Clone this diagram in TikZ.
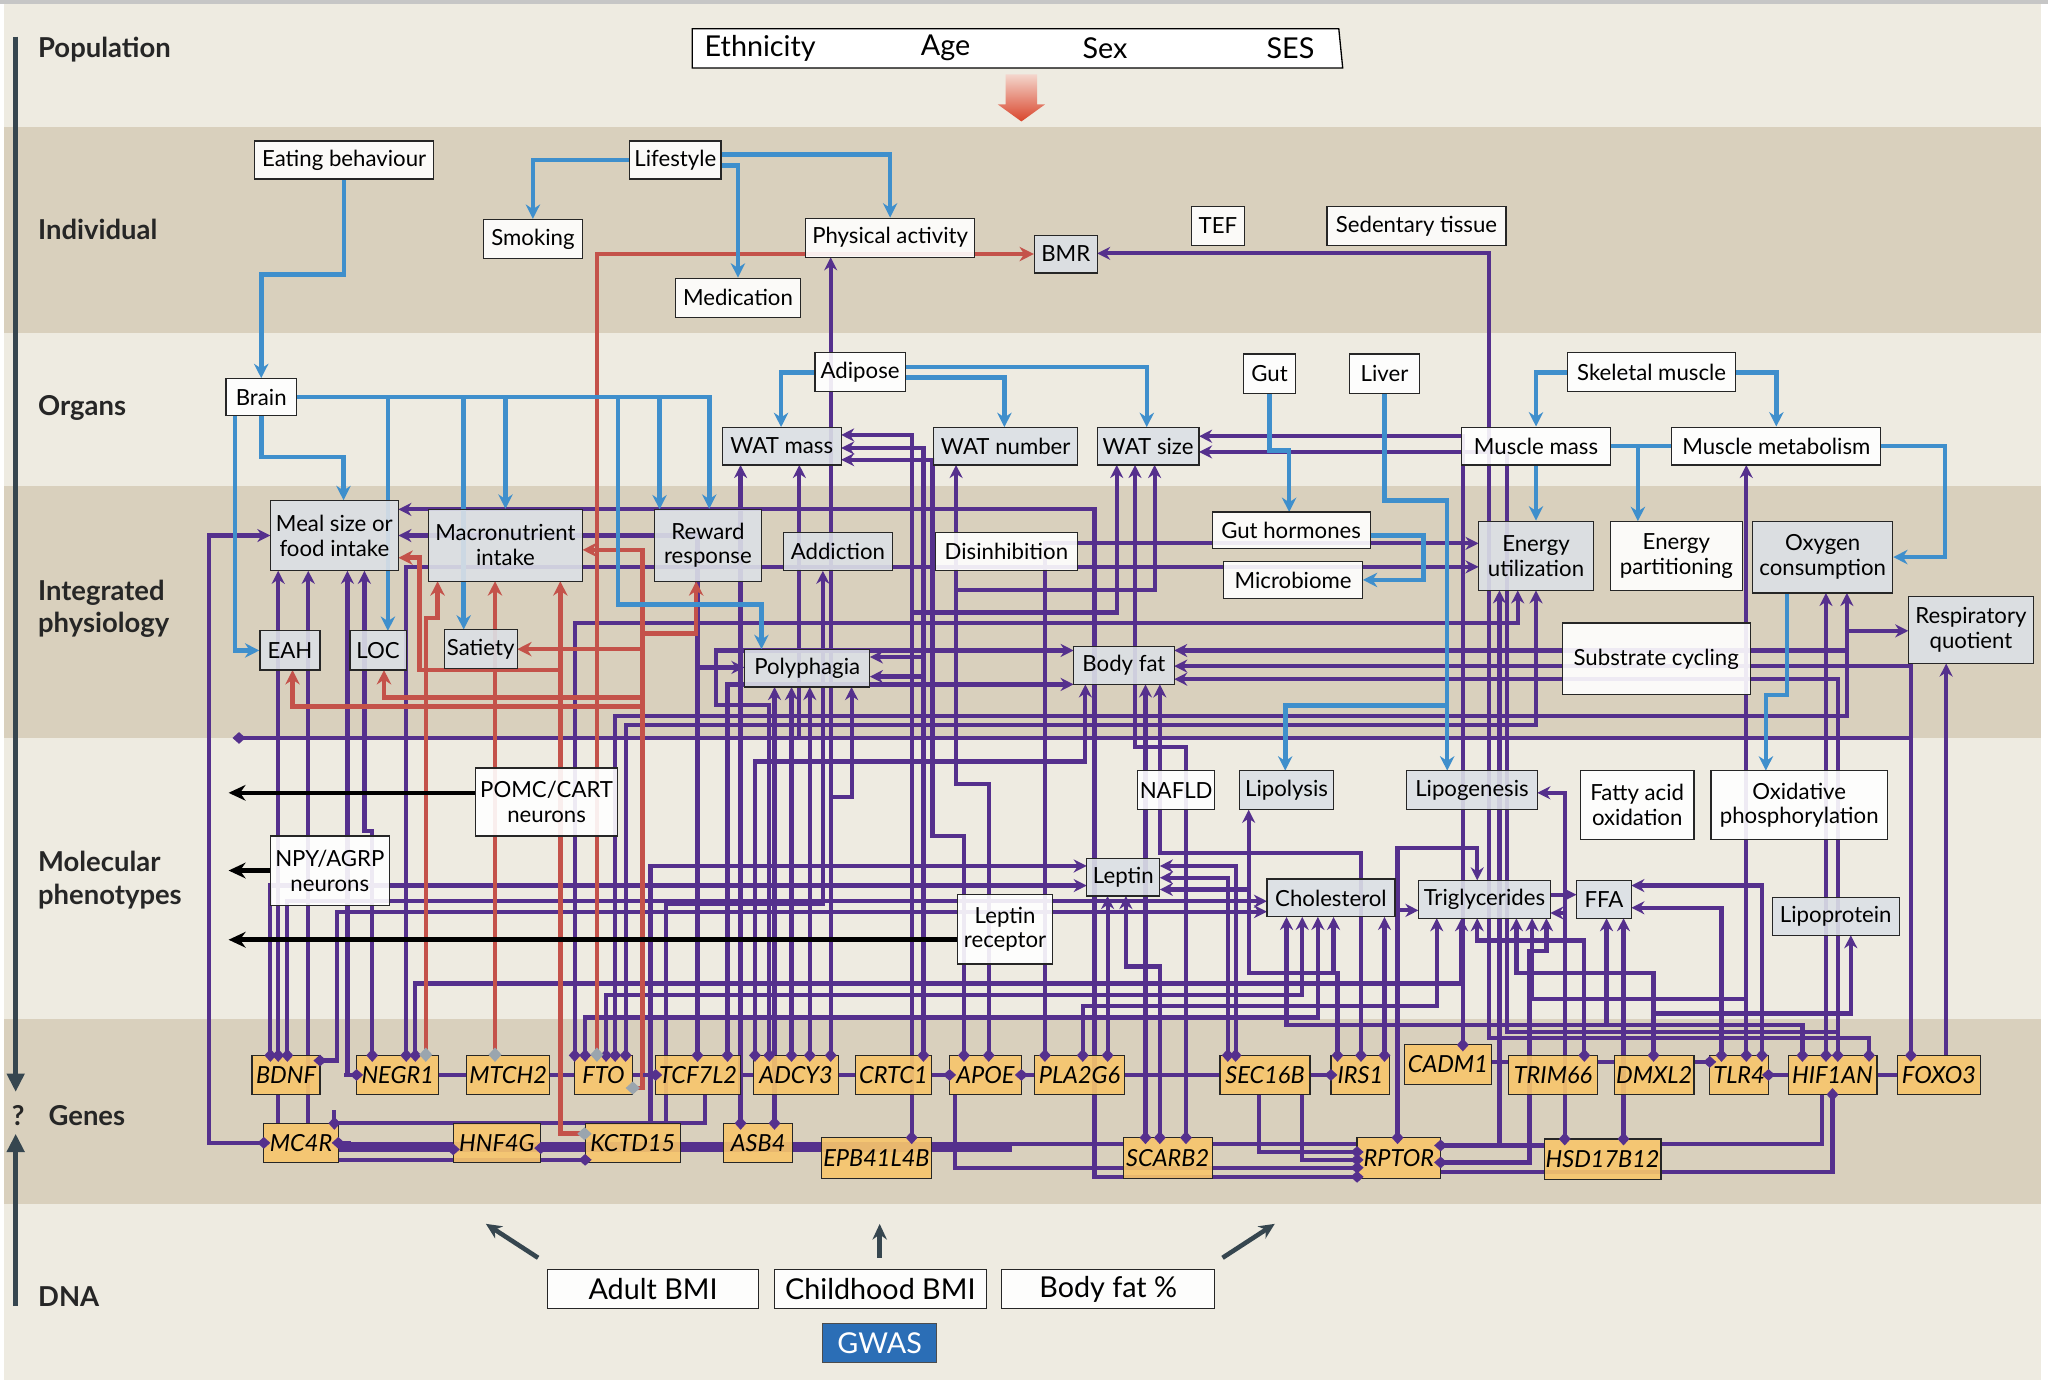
\documentclass[tikz,border=0pt]{standalone}
\usepackage{fontspec}
\setmainfont{Lato}
\usetikzlibrary{arrows.meta}
\pgfdeclarelayer{back}
\pgfdeclarelayer{lines}
\pgfdeclarelayer{front}
\pgfsetlayers{back,lines,main,front}
\definecolor{bgl}{HTML}{EEEBE1}
\definecolor{bgt}{HTML}{D9D0BD}
\definecolor{purp}{HTML}{55308D}
\definecolor{blu}{HTML}{3F8FCC}
\definecolor{redl}{HTML}{C4524A}
\definecolor{gfill}{HTML}{DCE0E6}
\definecolor{genef}{HTML}{F8C66B}
\definecolor{axisc}{HTML}{36464F}
\definecolor{gwas}{HTML}{2B6EB6}
\definecolor{diag}{HTML}{9AA5AE}
\definecolor{arrtop}{HTML}{F4D6CC}
\definecolor{arrbot}{HTML}{D9452C}
\newcommand\boxfnt{\fontsize{17}{19}\selectfont}
\newcommand\genefnt{\fontsize{18}{20}\selectfont\itshape}
\newcommand\bigfnt{\fontsize{22}{25}\selectfont}
\newcommand\labfnt{\fontsize{21}{25}\selectfont\bfseries}
\newcommand\mkbox[6]{\node[#1,minimum width=#4,minimum height=#5] (#2) at (#3) {#6};}
\begin{document}
\begin{tikzpicture}[x=1pt,y=-1pt,
  box/.style={draw=black!85,line width=0.9pt,inner sep=1pt,align=center,font=\boxfnt,fill opacity=0.9,text opacity=1},
  wb/.style={box,fill=white},
  gb/.style={box,fill=gfill},
  gn/.style={box,fill=genef,font=\genefnt},
  pl/.style={draw=purp,line width=3.2pt},
  pa/.style={pl,-{Stealth[length=10pt,width=10pt]}},
  pd/.style={pl,{Diamond[length=10pt,width=9pt]}-},
  bl/.style={draw=blu,line width=3.5pt,-{Stealth[length=11pt,width=11pt]}},
  blp/.style={draw=blu,line width=3.5pt},
  rd/.style={draw=redl,line width=3.5pt,-{Stealth[length=11pt,width=11pt]}},
  rdd/.style={draw=redl,line width=3.5pt,{Diamond[length=11pt,width=10pt,color=diag]}-},
  bk/.style={draw=black,line width=3.5pt,-{Stealth[length=13pt,width=12pt]}},
  dk/.style={draw=axisc,line width=3.5pt,-{Stealth[length=12pt,width=11pt]}},
  lab/.style={anchor=west,font=\labfnt,text=black!85,align=left,inner sep=0pt},
]
\useasboundingbox (0,0) rectangle (1568,1056.6);
\begin{pgfonlayer}{back}
\fill[white] (0,0) rectangle (1568,1056.6);
\fill[bgl] (3,3) rectangle (1563,1056.6);
\fill[gray!45] (0,0) rectangle (1568,3);
\fill[bgt] (3,97) rectangle (1563,255);
\fill[bgt] (3,372) rectangle (1563,565);
\fill[bgt] (3,780) rectangle (1563,922);
\end{pgfonlayer}

% ---------- left axis and labels
\draw[axisc,line width=4pt,-{Triangle[length=14pt,width=13pt]}] (12,28) -- (12,836);
\draw[axisc,line width=4pt,-{Triangle[length=14pt,width=13pt]}] (12,1000) -- (12,868);
\node[lab] (lpop) at (29,38) {Population};
\node[lab] (lind) at (29,176) {Individual};
\node[lab] (lorg) at (29,312) {Organs};
\node[lab] (lint) at (29,466) {Integrated\\physiology};
\node[lab] (lmol) at (29,674) {Molecular\\phenotypes};
\node[font=\labfnt,text=black!85] (lq) at (14,854) {?};
\node[lab] (lgen) at (37,854) {Genes};
\node[lab] (ldna) at (29,993) {DNA};

% ---------- population
\draw[line width=1pt,fill=white] (530,22) -- (1025,22) -- (1028,52) -- (530,52) -- cycle;
\node[font=\bigfnt] (eth) at (582,37) {Ethnicity};
\node[font=\bigfnt] (age) at (724,37) {Age};
\node[font=\bigfnt] (sex) at (846,37) {Sex};
\node[font=\bigfnt] (ses) at (988,37) {SES};
\shade[top color=arrtop,bottom color=arrbot] (770,57) -- (794,57) -- (794,80) -- (800,80) -- (782,93) -- (764,80) -- (770,80) -- cycle;

% ---------- nodes
\mkbox{wb}{eat}{263.5,122.5}{137}{29}{Eating behaviour}
\mkbox{wb}{life}{517,122.5}{70}{29}{Lifestyle}
\mkbox{wb}{smok}{408,183}{76}{30}{Smoking}
\mkbox{wb}{phys}{681.5,182}{129}{30}{Physical activity}
\mkbox{wb}{med}{565,228}{96}{30}{Medication}
\mkbox{gb}{bmr}{816,194.5}{48}{29}{BMR}
\mkbox{wb}{tef}{932.5,173}{41}{30}{TEF}
\mkbox{wb}{sed}{1084.5,173}{137}{30}{Sedentary tissue}
\mkbox{wb}{brain}{200,304}{54}{28}{Brain}
\mkbox{wb}{adip}{658.5,285}{69}{30}{Adipose}
\mkbox{wb}{gut}{972,286}{40}{30}{Gut}
\mkbox{wb}{liver}{1060,286}{54}{30}{Liver}
\mkbox{wb}{skel}{1264.5,285}{129}{30}{Skeletal muscle}
\mkbox{gb}{watm}{598.5,341.5}{91}{29}{WAT mass}
\mkbox{gb}{watn}{770,341.5}{110}{29}{WAT number}
\mkbox{gb}{wats}{879,341.5}{78}{29}{WAT size}
\mkbox{wb}{mmass}{1176,341.5}{114}{29}{Muscle mass}
\mkbox{wb}{mmet}{1360,341.5}{160}{29}{Muscle metabolism}
\mkbox{gb}{meal}{256,410}{98}{54}{Meal size or\\food intake}
\mkbox{gb}{macro}{387,417.5}{118}{55}{Macronutrient\\intake}
\mkbox{gb}{reward}{542,417.5}{82}{55}{Reward\\response}
\mkbox{gb}{addict}{641.5,422.5}{83}{29}{Addiction}
\mkbox{wb}{disinh}{770.5,422.5}{109}{29}{Disinhibition}
\mkbox{wb}{guth}{988.5,406}{121}{28}{Gut hormones}
\mkbox{wb}{micro}{990,444}{106}{28}{Microbiome}
\mkbox{gb}{eu}{1176,425.5}{88}{53}{Energy\\utilization}
\mkbox{wb}{epart}{1283.5,425.5}{101}{53}{Energy\\partitioning}
\mkbox{gb}{oxy}{1395.5,426.5}{107}{55}{Oxygen\\consumption}
\mkbox{gb}{rq}{1509,482.5}{96}{51}{Respiratory\\quotient}
\mkbox{gb}{eah}{222,498}{46}{30}{EAH}
\mkbox{gb}{loc}{289.5,498}{43}{30}{LOC}
\mkbox{gb}{sati}{368,497}{56}{30}{Satiety}
\mkbox{gb}{poly}{618,511.5}{96}{29}{Polyphagia}
\mkbox{gb}{bodyfat}{860.5,509.5}{77}{29}{Body fat}
\mkbox{wb}{subst}{1268,504.5}{144}{55}{Substrate cycling}
\mkbox{wb}{pomc}{418.5,614}{109}{52}{POMC/CART\\neurons}
\mkbox{wb}{npy}{252.5,666.5}{91}{53}{NPY/AGRP\\neurons}
\mkbox{wb}{nafld}{900.5,605}{59}{30}{NAFLD}
\mkbox{gb}{lipol}{985,605}{72}{30}{Lipolysis}
\mkbox{gb}{lipog}{1127,605}{100}{30}{Lipogenesis}
\mkbox{wb}{fao}{1253.5,616.5}{87}{53}{Fatty acid\\oxidation}
\mkbox{wb}{oxphos}{1377.5,616.5}{135}{53}{Oxidative\\phosphorylation}
\mkbox{gb}{leptin}{860,671.5}{56}{29}{Leptin}
\mkbox{wb}{leprec}{769.5,711.5}{73}{53}{Leptin\\receptor}
\mkbox{gb}{chol}{1019,687.5}{98}{29}{Cholesterol}
\mkbox{gb}{trig}{1136.5,688.5}{101}{29}{Triglycerides}
\mkbox{gb}{ffa}{1228,688.5}{42}{29}{FFA}
\mkbox{gb}{lipop}{1405.5,701.5}{97}{29}{Lipoprotein}
% genes
\mkbox{gn}{BDNF}{219,823}{52}{30}{BDNF}
\mkbox{gn}{NEGR}{304.5,823}{63}{30}{NEGR1}
\mkbox{gn}{MTCH}{389,823}{64}{30}{MTCH2}
\mkbox{gn}{FTO}{462,823}{44}{30}{FTO}
\mkbox{gn}{TCF}{534.5,823}{65}{30}{TCF7L2}
\mkbox{gn}{ADCY}{609.5,823}{65}{30}{ADCY3}
\mkbox{gn}{CRTC}{684,823}{58}{30}{CRTC1}
\mkbox{gn}{APOE}{754.5,823}{55}{30}{APOE}
\mkbox{gn}{PLA}{826.5,823}{69}{30}{PLA2G6}
\mkbox{gn}{SEC}{968.5,823}{69}{30}{SEC16B}
\mkbox{gn}{IRS}{1041.5,823}{45}{30}{IRS1}
\mkbox{gn}{CADM}{1108.5,815}{67}{30}{CADM1}
\mkbox{gn}{TRIM}{1189,823}{68}{30}{TRIM66}
\mkbox{gn}{DMXL}{1266.5,823}{61}{30}{DMXL2}
\mkbox{gn}{TLR}{1331.5,823}{45}{30}{TLR4}
\mkbox{gn}{HIF}{1403,823}{68}{30}{HIF1AN}
\mkbox{gn}{FOXO}{1484.5,823}{63}{30}{FOXO3}
\mkbox{gn}{MCR}{230.5,875}{57}{30}{MC4R}
\mkbox{gn}{HNF}{380.5,875}{67}{30}{HNF4G}
\mkbox{gn}{KCTD}{484.5,875}{73}{30}{KCTD15}
\mkbox{gn}{ASB}{580.5,875}{53}{30}{ASB4}
\mkbox{gn}{EPB}{671,886.5}{84}{31}{EPB41L4B}
\mkbox{gn}{SCARB}{894,886.5}{68}{31}{SCARB2}
\mkbox{gn}{RPTOR}{1071,886.5}{64}{31}{RPTOR}
\mkbox{gn}{HSD}{1227,887.5}{88}{31}{HSD17B12}
% DNA
\mkbox{wb,font=\bigfnt}{adult}{500,987}{162}{30}{Adult BMI}
\mkbox{wb,font=\bigfnt}{child}{674,987}{162}{30}{Childhood BMI}
\mkbox{wb,font=\bigfnt}{bfp}{848.5,987}{163}{30}{Body fat \%}
\node[draw=black!70,line width=0.9pt,fill=gwas,text=white,font=\bigfnt,minimum width=87,minimum height=30] (gwasn) at (673.5,1028) {GWAS};

\begin{pgfonlayer}{lines}
% ---------- purple connectors
\draw[pa] (202,875) -- (160,875) -- (160,410) -- (207,410);
\draw[pa] (213,808) -- (213,437);
\draw[pl] (213,838) -- (213,860);
\draw[pa] (236,860) -- (236,437);
\draw[pa] (207,808) -- (207,678) -- (832,678);
\draw[pa] (220,808) -- (220,690) -- (970,690);
\draw[pa] (245,812) -- (258,812) -- (258,698) -- (970,698);
\draw[pa] (273,823) -- (266,823) -- (266,437);
\draw[pa] (285,808) -- (285,636) -- (279,636) -- (279,437);
\draw[pa] (311,808) -- (311,434) -- (1132,434);
\draw[pa] (318,808) -- (318,753) -- (1119,753) -- (1119,703);
\draw[pa] (440,808) -- (440,477) -- (1162,477) -- (1162,452);
\draw[pa] (448,808) -- (448,779) -- (1009,779) -- (1009,702);
\draw[pa] (464,808) -- (464,762) -- (997,762) -- (997,702);
\draw[pa] (471,808) -- (471,548) -- (1414,548) -- (1414,454);
\draw[pa] (479,808) -- (479,555) -- (1176,555) -- (1176,452);
\draw[pa] (1414,483) -- (1461,483);
\draw[pa] (1414,498) -- (899,498);
\draw[pa] (534,808) -- (534,511) -- (570,511);
\draw[pa] (534,511) -- (534,410) -- (305,410);
\draw[pa] (557,808) -- (557,524) -- (822,524);
\draw[pa] (589,808) -- (589,540) -- (548,540) -- (548,498) -- (822,498);
\draw[pa] (593,860) -- (593,526);
\draw[pa] (606,808) -- (606,526);
\draw[pa] (620,808) -- (620,526);
\draw[pa] (636,808) -- (636,197);
\draw[pa] (636,610) -- (652,610) -- (652,526);
\draw[pa] (567,860) -- (567,356);
\draw[pa] (578,808) -- (578,583) -- (831,583) -- (831,524);
\draw[pa] (707,808) -- (707,343) -- (644,343);
\draw[pa] (707,503) -- (666,503);
\draw[pa] (707,518) -- (666,518);
\draw[pa] (698,871) -- (698,333) -- (644,333);
\draw[pa] (698,469) -- (855,469) -- (855,356);
\draw[pa] (738,808) -- (738,640) -- (714,640) -- (714,352) -- (644,352);
\draw[pa] (757,808) -- (757,600) -- (732,600) -- (732,356);
\draw[pa] (732,452) -- (884,452) -- (884,356);
\draw[pa] (908,871) -- (908,572) -- (869,572) -- (869,356);
\draw[pa] (510,860) -- (510,692) -- (630,692) -- (630,437);
\draw[pa] (498,860) -- (498,663) -- (832,663);
\draw[pa] (829,808) -- (829,770) -- (1100,770) -- (1100,703);
\draw[pa] (848,808) -- (848,686);
\draw[pa] (888,871) -- (888,740) -- (862,740) -- (862,686);
\draw[pa] (1039,901) -- (838,901) -- (838,390) -- (305,390);
\draw[pl] (1039,882) -- (964,882) -- (964,838);
\draw[pl] (1039,888) -- (997,888) -- (997,838);
\draw[pl] (1039,894) -- (731,894) -- (731,838);
\draw[pa] (1070,871) -- (1070,649) -- (1131,649) -- (1131,674);
\draw[pa] (1103,890) -- (1171,890) -- (1171,728) -- (1184,728) -- (1184,703);
\draw[pa] (1103,877) -- (1148,877) -- (1148,452);
\draw[pl] (1148,877) -- (1183,877);
\draw[pa] (1431,808) -- (1431,795) -- (1140,795) -- (1140,194) -- (840,194);
\draw[pa] (1407,808) -- (1407,790) -- (1154,790) -- (1154,346) -- (918,346);
\draw[pa] (1407,790) -- (1407,520) -- (899,520);
\draw[pa] (1120,800) -- (1120,334) -- (918,334);
\draw[pa] (1380,808) -- (1380,785) -- (985,785) -- (985,702);
\draw[pa] (1230,785) -- (1230,703);
\draw[pa] (1398,808) -- (1398,454);
\draw[pa] (1024,808) -- (1024,745) -- (956,745) -- (956,620);
\draw[pa] (1021,745) -- (1021,702);
\draw[pa] (956,681) -- (888,681);
\draw[pa] (946,808) -- (946,663) -- (888,663);
\draw[pa] (940,808) -- (940,672) -- (888,672);
\draw[pa] (1060,808) -- (1060,702);
\draw[pa] (1042,808) -- (1042,653) -- (888,653) -- (888,524);
\draw[pa] (877,871) -- (877,524);
\draw[pa] (1068,697) -- (1086,697);
\draw[pa] (1213,808) -- (1213,720) -- (1131,720) -- (1131,703);
\draw[pa] (1198,872) -- (1198,607) -- (1177,607);
\draw[pa] (1198,699) -- (1187,699);
\draw[pa] (1187,685) -- (1207,685);
\draw[pa] (1266,808) -- (1266,745) -- (1161,745) -- (1161,703);
\draw[pa] (1266,776) -- (1417,776) -- (1417,716);
\draw[pa] (1243,872) -- (1243,703);
\draw[pa] (1337,808) -- (1337,356);
\draw[pa] (1337,765) -- (1173,765) -- (1173,703);
\draw[pa] (1349,808) -- (1349,678) -- (1249,678);
\draw[pa] (1318,808) -- (1318,695) -- (1249,695);
\draw[pa] (1490,808) -- (1490,508);
\draw[pa] (1463,808) -- (1463,510) -- (899,510);
\draw[pa] (183,565) -- (612,565) -- (612,356);
\draw[pl] (612,565) -- (1463,565);
\draw[pa] (800,808) -- (800,416) -- (1132,416);
\draw[pl] (1403,838) -- (1403,897) -- (1103,897);
\draw[pl] (1271,876) -- (1395,876) -- (1395,838);
\draw[pl] (256,860) -- (540,860) -- (540,838);
% gene links
\draw[pl] (336,823) -- (357,823);
\draw[pl] (421,823) -- (440,823);
\draw[pl] (484,823) -- (502,823);
\draw[pl] (567,823) -- (577,823);
\draw[pl] (642,823) -- (655,823);
\draw[pl] (713,823) -- (727,823);
\draw[pl] (782,823) -- (792,823);
\draw[pl] (861,823) -- (934,823);
\draw[pl] (1003,823) -- (1019,823);
\draw[pl] (1142,813) -- (1155,813);
\draw[pl] (1223,813) -- (1236,813);
\draw[pl] (1297,813) -- (1309,813);
\draw[pl] (1354,823) -- (1369,823);
\draw[pl] (1437,823) -- (1453,823);
\draw[draw=purp,line width=8pt] (259,878) -- (775,878);
\draw[pl] (775,876) -- (860,876);
\draw[pl] (928,876) -- (1039,876);
\draw[pl] (259,888) -- (448,888);

% ---------- red connectors
\draw[rd] (457,808) |- (bmr.west);
\draw[rd] (379,808) -- (379,445);
\draw[rd] (326,808) |- (335,473) -- (335,445);
\draw[rd] (448,868) -| (429,445);
\draw[rd] (429,513) -| (321,427) -- (305,427);
\draw[rd] (484,833) -| (492,421) -- (446,421);
\draw[rd] (492,497) -- (396,497);
\draw[rd] (492,534) -| (294,513);
\draw[rd] (492,541) -| (224,513);
\draw[rd] (492,485) -| (533,445);

% ---------- blue connectors
\draw[bl] (eat.south) |- (230,210) -| (brain.north);
\draw[bl] (life.west) -| (smok.north);
\draw[bl] ([yshift=4pt]life.east) -| (phys.north);
\draw[bl] ([yshift=-4pt]life.east) -| (med.north);
\draw[bl] (brain.east) -| ([xshift=1pt]reward.north);
\draw[bl] (297,304) -- (297,483);
\draw[bl] (355,304) -- (355,482);
\draw[bl] (387,304) -- (macro.north);
\draw[bl] (473,304) |- (583,463) -- (583,497);
\draw[bl] (505,304) -- (505,390);
\draw[bl] ([xshift=-20pt]brain.south) |- (eah.west);
\draw[bl] (brain.south) |- (263,350) -- (263,383);
\draw[bl] (adip.west) -| (598,327);
\draw[bl] ([yshift=4pt]adip.east) -| (878,327);
\draw[bl] ([yshift=-4pt]adip.east) -| (769,327);
\draw[bl] (gut.south) |- (987,345) -- (987,392);
\draw[bl] (liver.south) |- (1108,383) -- (1108,590);
\draw[bl] (1108,540) -| (984,590);
\draw[bl] (skel.west) -| (mmass.north);
\draw[bl] (skel.east) -| (mmet.north);
\draw[bl] (mmass.south) -- (eu.north);
\draw[blp] (mmass.east) -- (mmet.west);
\draw[bl] (1254,342) -- (1254,399);
\draw[bl] (mmet.east) -| (1489,426.5) -- (oxy.east);
\draw[bl] (1368,454) |- (1352,532) -- (1352,590);
\draw[bl] ([yshift=-4pt]guth.east) -| (1090,444) -- (micro.east);

% ---------- black arrows
\draw[bk] ([yshift=7pt]pomc.west) -- (175,607);
\draw[bk] (npy.west) -- (175,666.5);
\draw[bk] ([yshift=-8pt]leprec.west) -- (175,719.5);
\draw[dk] (412,963) -- (372,937);
\draw[dk] (673.5,963) -- (673.5,937);
\draw[dk] (936,963) -- (976,937);
\end{pgfonlayer}

\begin{pgfonlayer}{front}
\foreach \x/\y in {207/808,213/808,220/808,285/808,311/808,318/808,440/808,448/808,464/808,471/808,479/808,534/808,557/808,578/808,589/808,606/808,620/808,636/808,707/808,738/808,757/808,800/808,829/808,848/808,940/808,946/808,1024/808,1042/808,1060/808,1120/800,1213/808,1266/808,1318/808,1337/808,1349/808,1380/808,1398/808,1407/808,1431/808,1463/808,256/860,567/860,593/860,698/871,877/871,888/871,908/871,1070/871,1198/872,1243/872}
  \draw[pd] (\x,\y+5) -- (\x,\y-10);
\foreach \x/\y in {202/875,273/823,502/823,727/823,1019/823,347/880,448/888,1039/882,1039/888,1039/894,1039/901,1309/813}
  \draw[pd] (\x+5,\y) -- (\x-10,\y);
\foreach \x/\y in {245/812,259/875,414/879,782/823,1103/890,1103/877,1354/823}
  \draw[pd] (\x-5,\y) -- (\x+10,\y);
\draw[pd] (1403,833) -- (1403,848);
\draw[pd] (178,565) -- (195,565);
\foreach \x in {326,379,457}
  \draw[rdd] (\x,813) -- (\x,798);
\draw[rdd] (453,868) -- (438,868);
\draw[rdd] (479,833) -- (492,833);
\end{pgfonlayer}
\end{tikzpicture}
\end{document}
